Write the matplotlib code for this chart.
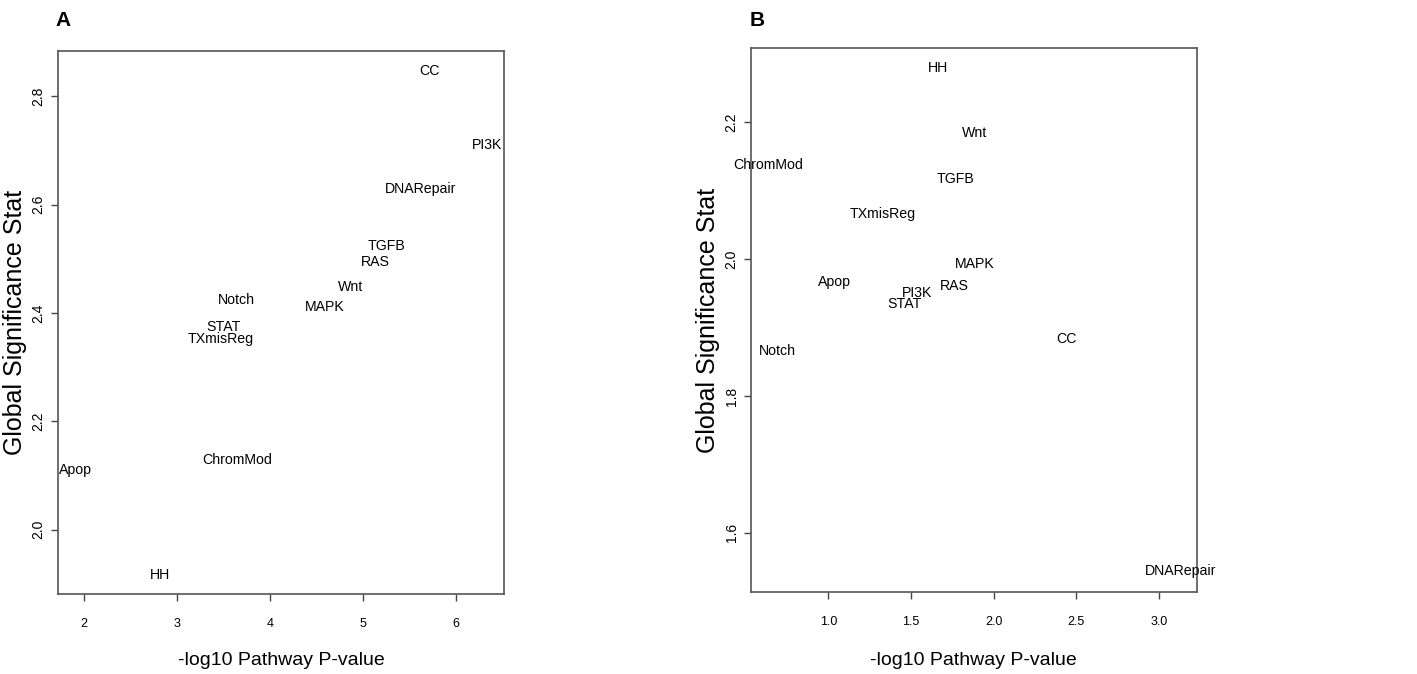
import matplotlib
matplotlib.use("Agg")
import matplotlib.pyplot as plt

plt.rcParams['font.family'] = ['Liberation Sans', 'DejaVu Sans']

# panel A
pathways_a = ["CC", "PI3K", "DNARepair", "TGFB", "RAS", "Wnt", "Notch", "MAPK",
              "STAT", "TXmisReg", "ChromMod", "Apop", "HH"]
x_a = [5.71, 6.33, 5.62, 5.25, 5.13, 4.86, 3.63, 4.585, 3.50, 3.47, 3.645, 1.90, 2.81]
y_a = [2.847, 2.710, 2.630, 2.523, 2.495, 2.448, 2.425, 2.411, 2.375, 2.352, 2.129, 2.110, 1.916]

# panel B
pathways_b = ["HH", "Wnt", "ChromMod", "TGFB", "TXmisReg", "MAPK", "Apop", "RAS",
              "PI3K", "STAT", "CC", "Notch", "DNARepair"]
x_b = [1.662, 1.884, 0.633, 1.771, 1.329, 1.886, 1.036, 1.761, 1.539, 1.462, 2.439, 0.691, 3.129]
y_b = [2.279, 2.185, 2.138, 2.117, 2.066, 1.993, 1.966, 1.961, 1.951, 1.935, 1.883, 1.865, 1.544]

xticks_a = [2, 3, 4, 5, 6]
yticks_a = [2.0, 2.2, 2.4, 2.6, 2.8]
xticks_b = [1.0, 1.5, 2.0, 2.5, 3.0]
yticks_b = [1.6, 1.8, 2.0, 2.2]

fig = plt.figure(figsize=(14.17, 6.74), dpi=100)
ax_a = fig.add_axes([0.0409, 0.1187, 0.3148, 0.8056])
ax_b = fig.add_axes([0.530, 0.1212, 0.3145, 0.808])


def draw_panel(ax, names, xs, ys, xlim, ylim, xticks, yticks, xfmt, ylab_x, xlab_y):
    for name, x, y in zip(names, xs, ys):
        ax.text(x, y, name, ha="center", va="center", fontsize=10.2, color="black")
    ax.set_xlim(*xlim)
    ax.set_ylim(*ylim)
    ax.set_xticks(xticks)
    ax.set_xticklabels([xfmt.format(t) for t in xticks], fontsize=9)
    ax.set_yticks(yticks)
    ax.set_yticklabels(["{:.1f}".format(t) for t in yticks], fontsize=10,
                       rotation=90, va="center")
    ax.tick_params(axis="x", length=5, width=1, pad=12, color="#444444")
    ax.tick_params(axis="y", length=5, width=1, pad=4, color="#444444")
    for sp in ax.spines.values():
        sp.set_color("#555555")
        sp.set_linewidth(1.2)
    ax.set_xlabel("-log10 Pathway P-value", fontsize=14)
    ax.set_ylabel("Global Significance Stat", fontsize=18)
    ax.yaxis.set_label_coords(ylab_x, 0.5)
    ax.xaxis.set_label_coords(0.5, xlab_y)


draw_panel(ax_a, pathways_a, x_a, y_a, (1.717, 6.513), (1.881, 2.884),
           xticks_a, yticks_a, "{:d}", -0.07, -0.106)
draw_panel(ax_b, pathways_b, x_b, y_b, (0.532, 3.228), (1.513, 2.309),
           xticks_b, yticks_b, "{:.1f}", -0.07, -0.109)

fig.text(63 / 1417, 1 - 20 / 674, "A", fontsize=15, fontweight="bold",
         ha="center", va="center")
fig.text(757 / 1417, 1 - 20 / 674, "B", fontsize=15, fontweight="bold",
         ha="center", va="center")

fig.savefig("out.png", dpi=100)
